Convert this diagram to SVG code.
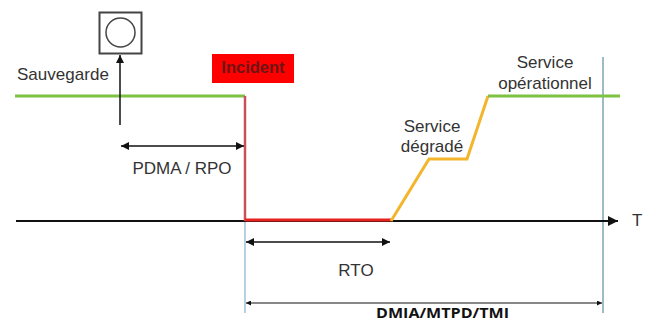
<svg xmlns="http://www.w3.org/2000/svg" width="652" height="323" viewBox="0 0 652 323">
<style>
.t{font-family:"Liberation Sans",Arial,sans-serif;font-size:17px;fill:#333;}
.c{text-anchor:middle;}
</style>
<defs>
<marker id="ah" viewBox="0 0 10 10" refX="10" refY="5" markerWidth="10" markerHeight="8" markerUnits="userSpaceOnUse" orient="auto-start-reverse">
<path d="M0,0 L10,5 L0,10 z" fill="#111"/>
</marker>
<marker id="ahs" viewBox="0 0 10 10" refX="10" refY="5" markerWidth="7" markerHeight="5" markerUnits="userSpaceOnUse" orient="auto-start-reverse">
<path d="M0,0 L10,5 L0,10 z" fill="#111"/>
</marker>
<marker id="axh" viewBox="0 0 10 10" refX="10" refY="5" markerWidth="15" markerHeight="10" markerUnits="userSpaceOnUse" orient="auto">
<path d="M0,0 L10,5 L0,10 z" fill="#111"/>
</marker>
</defs>
<rect width="652" height="323" fill="#fff"/>
<g id="connectors">
<line x1="245" y1="221" x2="245" y2="313" stroke="#9cc3db" stroke-width="1.5"/>
<line x1="603" y1="57" x2="603" y2="313" stroke="#5b8f9e" stroke-width="1.2"/>
<line x1="16" y1="221" x2="618" y2="221" stroke="#111" stroke-width="2.2" marker-end="url(#axh)"/>
<polyline points="15,96 245,96" fill="none" stroke="#7dc242" stroke-width="3"/>
<line x1="245" y1="96" x2="245" y2="221" stroke="#c9505a" stroke-width="2.5"/>
<line x1="245" y1="220" x2="391" y2="220" stroke="#e8201e" stroke-width="3"/>
<polyline points="391,221 429,159 467,159 488,96" fill="none" stroke="#f2b52b" stroke-width="3"/>
<line x1="488" y1="96" x2="620" y2="96" stroke="#7dc242" stroke-width="3"/>
<line x1="120" y1="125" x2="120" y2="55" stroke="#111" stroke-width="1.5" marker-end="url(#ah)"/>
<line x1="121" y1="146" x2="244" y2="146" stroke="#111" stroke-width="1.5" marker-start="url(#ah)" marker-end="url(#ah)"/>
<line x1="246" y1="242" x2="390" y2="242" stroke="#111" stroke-width="1.5" marker-start="url(#ah)" marker-end="url(#ah)"/>
<line x1="246" y1="303" x2="602" y2="303" stroke="#111" stroke-width="1" marker-start="url(#ahs)" marker-end="url(#ahs)"/>
</g>
<g id="backup-icon">
<rect x="99.5" y="12.5" width="42" height="41" fill="#fff" stroke="#444" stroke-width="2"/>
<circle cx="120.5" cy="32.5" r="14.5" fill="#fff" stroke="#444" stroke-width="1.5"/>
</g>
<g id="sauvegarde"><text class="t" x="17" y="80" textLength="92">Sauvegarde</text></g>
<g id="incident">
<rect x="212" y="54" width="82" height="29" fill="#fe0000"/>
<text x="253" y="72.5" text-anchor="middle" font-family="Liberation Sans,Arial,sans-serif" font-weight="bold" font-size="16.5" fill="#6e1414">Incident</text>
</g>
<g id="pdma"><text class="t c" x="182" y="174">PDMA / RPO</text></g>
<g id="service-degrade">
<text class="t c" x="432" y="132">Service</text>
<text class="t c" x="432" y="152">dégradé</text>
</g>
<g id="service-operationnel">
<text class="t c" x="545" y="68">Service</text>
<text class="t c" x="545" y="89">opérationnel</text>
</g>
<g id="rto"><text class="t c" x="356" y="276">RTO</text></g>
<g id="t-axis"><text class="t" x="632" y="226">T</text></g>
<g id="dmia"><text x="376" y="318" textLength="133" lengthAdjust="spacingAndGlyphs" font-family="Open Sans,sans-serif" font-weight="bold" font-size="14" fill="#111">DMIA/MTPD/TMI</text></g>
</svg>
